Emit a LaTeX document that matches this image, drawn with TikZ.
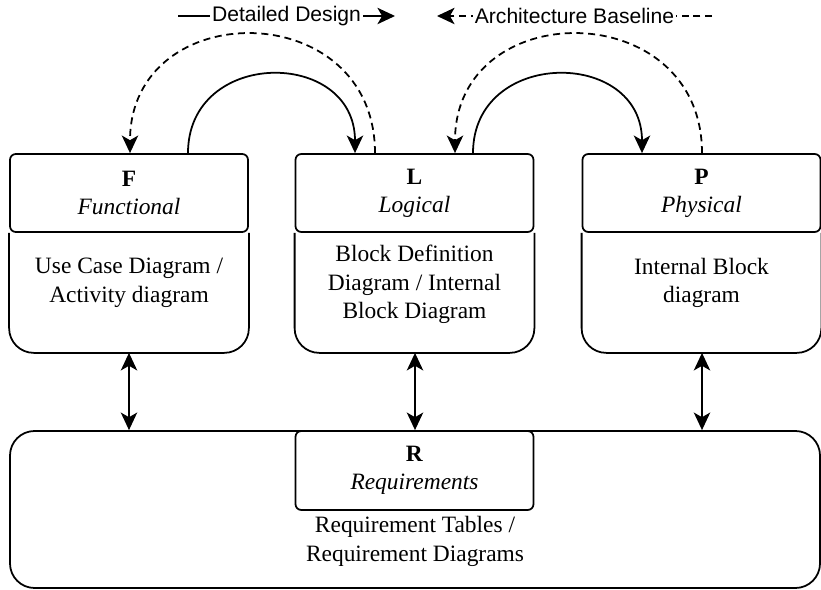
\documentclass[tikz,border=0pt]{standalone}
\usepackage{fontspec}
\setmainfont{Liberation Serif}
\newfontfamily\labelfont{Liberation Sans}
\usetikzlibrary{arrows.meta,positioning}

\begin{document}
\begin{tikzpicture}[>={Stealth[length=15pt,width=14pt,inset=4pt]}, line width=1.5pt, x=0.03cm, y=0.03cm,
  box/.style={minimum width=7.14cm, minimum height=5.94cm, inner sep=0pt},
  head/.style={draw, rounded corners=5pt, minimum width=7.14cm, minimum height=2.34cm, inner sep=0pt,
    align=center, font=\fontsize{20}{24}\selectfont},
  body/.style={align=center, font=\fontsize{20}{24.5}\selectfont},
  dashline/.style={dash pattern=on 6pt off 4pt},
  toplabel/.style={fill=white, inner sep=2pt, font=\labelfont\fontsize{18}{21}\selectfont}]
\useasboundingbox (0,0) rectangle (821,589);

% the three views
\node[box] (F) at (129,336) {};
\node[box] (L) at (414.5,336) {};
\node[box] (P) at (701.5,336) {};
\node[head, below=0pt of F.north] (Fh) {\textbf{F}\\\textit{Functional}};
\node[head, below=0pt of L.north] (Lh) {\textbf{L}\\\textit{Logical}};
\node[head, below=0pt of P.north] (Ph) {\textbf{P}\\\textit{Physical}};
\draw[rounded corners=21pt] (Fh.south west) -- (F.south west) -- (F.south east) -- (Fh.south east);
\draw[rounded corners=21pt] (Lh.south west) -- (L.south west) -- (L.south east) -- (Lh.south east);
\draw[rounded corners=21pt] (Ph.south west) -- (P.south west) -- (P.south east) -- (Ph.south east);
\node[body] (Ft) at (129,306) {Use Case Diagram /\\Activity diagram};
\node[body] (Lt) at (414.5,304.5) {Block Definition\\Diagram / Internal\\Block Diagram};
\node[body] (Pt) at (701.5,306) {Internal Block\\diagram};

% requirements
\node[draw, rounded corners=21pt, minimum width=24.3cm, minimum height=4.71cm, inner sep=0pt] (Rb) at (415,79.5) {};
\node[head, minimum height=2.37cm] (R) at (414.5,118.5) {\textbf{R}\\\textit{Requirements}};
\node[body] (Rt) at (415,47.5) {Requirement Tables /\\Requirement Diagrams};

\draw[<->] (F.south) -- (F.south |- Rb.north);
\draw[<->] ([xshift=0.015cm]L.south) -- ([xshift=0.015cm]L.south |- Rb.north);
\draw[<->] ([xshift=0.015cm]P.south) -- ([xshift=0.015cm]P.south |- Rb.north);

% design and baseline loops
\draw[->] ([xshift=1.77cm]F.north) .. controls +(0,105) and +(0,105) .. ([xshift=-1.785cm]L.north);
\draw[->] ([xshift=1.755cm]L.north) .. controls +(0,105) and +(0,105) .. ([xshift=-1.785cm]P.north);
\draw[->, dashline] ([xshift=-1.185cm]L.north) .. controls +(0,158) and +(0,158) .. ([xshift=0.03cm]F.north);
\draw[->, dashline] ([xshift=0.015cm]P.north) .. controls +(0,158) and +(0,158) .. ([xshift=1.215cm]L.north);

% legend
\coordinate (d1) at (178,573);
\coordinate (d2) at (395,573);
\coordinate (a1) at (712,573);
\coordinate (a2) at (437,573);
\draw[->] (d1) -- node[toplabel] {Detailed Design} (d2);
\draw[->, dashline] (a1) -- node[toplabel] {Architecture Baseline} (a2);
\end{tikzpicture}
\end{document}
